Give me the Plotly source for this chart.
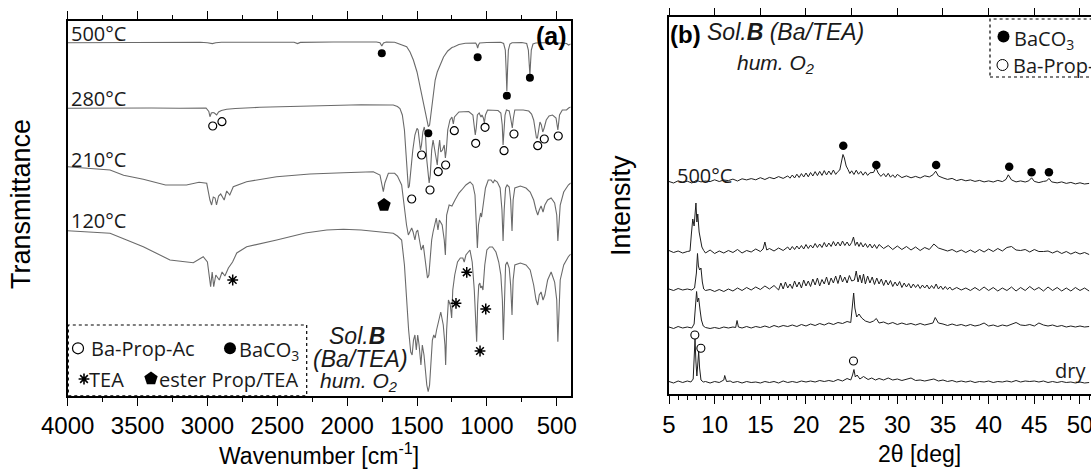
import plotly.graph_objects as go

W, H = 1091, 472

# ---------------- Panel (a): FTIR spectra (wavenumber cm-1, transmittance a.u.) ----------------
ftir_500 = [(4000, 353.0), (3800, 353.2), (3500, 353.1), (3200, 353.3), (3050, 353.4), (3000, 352.9),
            (2965, 352.1), (2940, 353.0), (2900, 353.4), (2700, 353.5), (2500, 353.4), (2380, 353.5),
            (2355, 352.1), (2335, 353.3), (2100, 353.7), (1900, 353.8), (1790, 353.7), (1765, 352.9),
            (1752, 349.7), (1740, 352.7), (1720, 353.7), (1660, 353.5), (1622, 351.7), (1600, 350.7),
            (1574, 349.0), (1550, 343.7), (1526, 335.7), (1500, 323.7), (1479, 309.0), (1460, 295.7),
            (1443, 282.4), (1430, 273.7), (1419, 269.0), (1410, 270.7), (1400, 281.7), (1390, 295.7),
            (1383, 303.7), (1370, 315.7), (1355, 323.7), (1340, 329.0), (1310, 338.7), (1280, 344.7),
            (1250, 348.2), (1234, 349.0), (1200, 351.2), (1154, 352.4), (1100, 352.9), (1080, 352.7),
            (1072, 350.7), (1066, 347.7), (1060, 350.7), (1052, 352.7), (1000, 353.2), (900, 353.4),
            (880, 352.2), (868, 345.7), (862, 325.7), (857, 304.7), (852, 325.7), (846, 345.7),
            (835, 351.7), (820, 353.0), (750, 353.2), (715, 352.2), (703, 345.7), (697, 332.7),
            (692, 320.7), (687, 333.7), (682, 345.7), (670, 351.7), (650, 352.7), (550, 353.2),
            (450, 352.9), (430, 352.2), (415, 350.7), (400, 351.7)]

ftir_280 = [(4000, 287.4), (3800, 287.7), (3600, 287.3), (3400, 287.7), (3200, 287.5), (3050, 288.1),
            (3010, 287.7), (2990, 284.2), (2982, 279.0), (2972, 282.7), (2960, 283.2), (2950, 282.7),
            (2934, 280.7), (2920, 283.7), (2900, 285.2), (2862, 286.4), (2800, 287.2), (2624, 288.4),
            (2400, 289.2), (2146, 290.7), (1900, 290.9), (1700, 290.7), (1670, 290.7), (1640, 289.2),
            (1622, 287.2), (1605, 280.7), (1590, 265.7), (1578, 240.7), (1568, 217.7), (1562, 207.7),
            (1555, 209.7), (1545, 225.7), (1530, 245.7), (1515, 260.7), (1500, 267.4), (1492, 265.7),
            (1484, 255.7), (1475, 245.7), (1468, 250.7), (1458, 263.7), (1448, 268.7), (1440, 262.7),
            (1430, 235.7), (1420, 217.7), (1413, 212.7), (1405, 220.7), (1395, 245.7), (1385, 255.7),
            (1375, 247.7), (1365, 235.7), (1355, 230.7), (1347, 245.7), (1338, 255.7), (1330, 243.7),
            (1318, 245.7), (1305, 250.7), (1297, 237.7), (1290, 245.7), (1280, 265.7), (1264, 275.7),
            (1250, 278.7), (1240, 271.7), (1232, 278.7), (1200, 283.7), (1180, 284.0), (1130, 284.2),
            (1100, 280.7), (1090, 270.7), (1083, 260.7), (1076, 267.7), (1068, 280.7), (1055, 282.7),
            (1042, 278.7), (1035, 280.7), (1025, 277.7), (1018, 272.7), (1010, 280.7), (995, 285.7),
            (987, 285.7), (960, 285.7), (920, 285.2), (900, 282.7), (890, 270.7), (884, 250.7),
            (878, 270.7), (870, 280.7), (860, 285.7), (840, 284.7), (830, 277.7), (818, 267.7),
            (810, 277.7), (800, 285.7), (780, 285.7), (740, 285.7), (700, 284.7), (680, 281.7),
            (665, 275.7), (655, 265.7), (645, 257.7), (638, 257.7), (630, 265.7), (620, 273.7),
            (610, 270.7), (600, 263.7), (590, 267.7), (575, 275.7), (555, 279.7), (530, 280.7),
            (505, 277.7), (497, 269.7), (492, 265.7), (487, 271.7), (480, 280.7), (460, 285.7),
            (430, 285.7), (415, 287.7), (400, 288.7)]

ftir_210 = [(4000, 229.0), (3800, 226.7), (3697, 225.7), (3600, 220.5), (3459, 216.4), (3300, 210.7),
            (3150, 210.7), (3060, 213.4), (3005, 212.4), (2982, 195.7), (2970, 190.7), (2958, 198.7),
            (2945, 197.7), (2935, 190.7), (2920, 199.7), (2905, 201.7), (2880, 195.7), (2862, 204.7),
            (2840, 200.7), (2815, 209.0), (2720, 214.0), (2505, 219.0), (2266, 221.7), (2027, 223.0),
            (1813, 224.0), (1765, 220.7), (1752, 210.7), (1741, 204.0), (1730, 212.7), (1705, 222.4),
            (1660, 222.4), (1640, 219.7), (1610, 210.7), (1590, 185.7), (1575, 170.7), (1562, 160.7),
            (1550, 163.7), (1538, 167.7), (1528, 163.7), (1515, 155.7), (1505, 163.7), (1495, 165.7),
            (1485, 157.7), (1470, 145.7), (1455, 150.7), (1440, 130.7), (1425, 117.7), (1415, 120.7),
            (1405, 140.7), (1395, 155.7), (1385, 163.7), (1375, 170.7), (1362, 177.7), (1350, 165.7),
            (1340, 175.7), (1320, 170.7), (1305, 155.7), (1297, 140.7), (1288, 180.7), (1270, 190.7),
            (1250, 189.7), (1228, 195.7), (1200, 202.7), (1180, 205.7), (1150, 210.7), (1120, 213.7),
            (1100, 210.7), (1085, 200.7), (1075, 170.7), (1068, 147.7), (1060, 170.7), (1052, 179.7),
            (1045, 182.7), (1038, 178.7), (1025, 190.7), (1010, 207.7), (990, 215.7), (970, 215.7),
            (955, 212.7), (945, 215.7), (925, 213.7), (905, 207.7), (892, 185.7), (884, 154.7),
            (876, 185.7), (866, 207.7), (855, 210.7), (840, 208.7), (830, 195.7), (820, 164.7),
            (812, 195.7), (800, 207.7), (760, 209.7), (720, 207.7), (690, 203.7), (665, 195.7),
            (648, 185.7), (636, 180.7), (625, 185.7), (612, 189.7), (598, 183.7), (585, 190.7),
            (565, 195.7), (540, 197.7), (515, 192.7), (500, 180.7), (492, 154.7), (485, 170.7),
            (475, 190.7), (450, 203.7), (417, 210.7), (400, 212.7)]

ftir_120 = [(4000, 165.0), (3697, 162.4), (3459, 149.0), (3268, 135.7), (3101, 133.0), (3030, 139.0),
            (3000, 133.7), (2977, 109.0), (2966, 123.7), (2955, 109.0), (2940, 120.7), (2915, 115.7),
            (2895, 123.7), (2875, 119.7), (2850, 127.7), (2820, 133.7), (2790, 142.7), (2719, 149.0),
            (2504, 155.7), (2300, 162.7), (2146, 165.7), (2027, 166.4), (1900, 165.7), (1789, 164.0),
            (1670, 162.4), (1640, 159.7), (1610, 155.7), (1590, 130.7), (1574, 92.7), (1560, 65.7),
            (1545, 43.7), (1535, 40.7), (1525, 55.7), (1515, 60.7), (1505, 45.7), (1495, 60.7),
            (1485, 50.7), (1472, 30.7), (1462, 50.7), (1450, 40.7), (1430, 10.7), (1420, 4.0),
            (1410, 10.7), (1400, 35.7), (1390, 55.7), (1380, 60.7), (1370, 57.7), (1360, 65.7),
            (1345, 75.7), (1330, 83.7), (1312, 70.7), (1300, 50.7), (1295, 30.7), (1288, 65.7),
            (1275, 95.7), (1262, 90.7), (1252, 77.7), (1244, 105.7), (1230, 120.7), (1210, 133.7),
            (1190, 137.7), (1172, 137.7), (1162, 133.7), (1150, 140.7), (1121, 145.7), (1105, 133.7),
            (1090, 105.7), (1078, 75.7), (1073, 54.0), (1066, 90.7), (1058, 110.7), (1050, 112.7),
            (1044, 107.7), (1036, 109.7), (1028, 105.7), (1015, 130.7), (1000, 145.7), (980, 148.7),
            (960, 148.7), (935, 143.7), (915, 133.7), (900, 120.7), (889, 95.7), (882, 55.7),
            (876, 95.7), (866, 130.7), (855, 133.7), (840, 127.7), (830, 110.7), (820, 80.7),
            (812, 115.7), (800, 130.7), (760, 132.7), (720, 130.7), (690, 125.7), (665, 110.7),
            (648, 95.7), (636, 90.7), (625, 100.7), (612, 103.7), (598, 95.7), (585, 100.7),
            (565, 115.7), (540, 123.7), (515, 113.7), (500, 95.7), (492, 54.0), (485, 85.7),
            (475, 115.7), (450, 130.7), (417, 139.0), (400, 141.7)]

# band assignment markers (wavenumber, height)
baco3_a = [(1752, 342.4), (1419, 262.4), (1066, 338.4), (857, 300.0), (692, 318.0)]
baprop_a = [(2962, 269.7), (2896, 274.0), (1538, 196.7), (1467, 240.7), (1407, 205.7), (1348, 224.0),
            (1295, 230.7), (1233, 265.0), (1080, 252.4), (1013, 268.4), (877, 245.0), (806, 261.7),
            (636, 250.0), (589, 256.7), (489, 259.7)]
tea_a = [(2819, 115.7), (1221, 92.4), (1144, 123.4), (1008, 86.7), (1049, 44.7)]
ester_a = [(1736, 190.7)]

# ---------------- Panel (b): XRD patterns (2theta deg, intensity a.u.) ----------------
xrd_500 = [(5.0, 212.5), (5.5, 211.0), (6.0, 213.2), (6.5, 211.5), (7.0, 212.8), (7.5, 211.0), (8.0, 213.6),
           (8.5, 212.1), (9.0, 213.0), (9.5, 212.4), (10.0, 214.2), (10.5, 212.5), (11.0, 214.0), (11.5, 213.4),
           (12.0, 214.9), (12.5, 213.0), (13.0, 215.2), (13.5, 214.1), (14.0, 215.4), (14.5, 214.2), (15.0, 216.3),
           (15.5, 214.5), (16.0, 216.6), (16.5, 215.3), (17.0, 217.4), (17.5, 215.6), (18.0, 218.1), (18.25, 215.8),
           (18.5, 219.0), (18.75, 216.0), (19.0, 219.8), (19.25, 216.5), (19.5, 220.4), (19.75, 217.0), (20.0, 221.0),
           (20.25, 217.2), (20.5, 221.5), (20.75, 218.0), (21.0, 222.4), (21.25, 218.4), (21.5, 222.6), (21.75, 218.6),
           (22.0, 223.4), (22.25, 219.0), (22.5, 223.0), (22.75, 219.4), (23.0, 224.0), (23.25, 219.6), (23.5, 222.5),
           (23.7, 224.0), (23.9, 233.0), (24.05, 239.5), (24.2, 236.0), (24.4, 228.0), (24.6, 224.5), (24.8, 220.5),
           (25.0, 223.2), (25.25, 219.5), (25.5, 223.8), (25.75, 219.8), (26.0, 222.6), (26.25, 218.8), (26.5, 222.1),
           (26.75, 218.6), (27.0, 221.2), (27.4, 221.6), (27.65, 226.5), (27.9, 221.0), (28.2, 217.6), (28.5, 220.4),
           (28.75, 217.2), (29.0, 220.7), (29.25, 216.8), (29.5, 219.2), (29.75, 216.4), (30.0, 219.6), (30.5, 216.4),
           (31.0, 218.1), (31.5, 216.2), (32.0, 217.6), (32.5, 216.0), (33.0, 218.2), (33.5, 217.1),
           (33.9, 219.2), (34.2, 222.8), (34.5, 218.0), (35.0, 216.1), (35.5, 214.6), (36.0, 215.6), (36.5, 213.4),
           (37.0, 214.6), (37.5, 213.2), (38.0, 214.1), (38.5, 212.6), (39.0, 213.6), (39.5, 212.1), (40.0, 213.1),
           (40.5, 212.0), (41.0, 213.6), (41.5, 212.4), (41.9, 214.6), (42.15, 219.2), (42.5, 214.1), (43.0, 212.1),
           (43.5, 213.1), (44.0, 212.0), (44.4, 213.2), (44.7, 216.2), (45.0, 212.6), (45.5, 211.4), (46.0, 212.6),
           (46.35, 213.1), (46.6, 215.6), (46.9, 212.1), (47.5, 211.1), (48.0, 212.1), (48.5, 210.6), (49.0, 211.6),
           (49.5, 210.1), (50.0, 211.2), (50.5, 210.0), (51.0, 210.6)]

xrd_280 = [(5.0, 143.5), (5.5, 141.5), (6.0, 143.0), (6.5, 141.0), (7.0, 142.5), (7.3, 143.0), (7.45, 160.0),
           (7.6, 175.0), (7.75, 168.0), (7.85, 185.0), (7.95, 191.0), (8.05, 172.0), (8.15, 180.0), (8.3, 162.0),
           (8.45, 155.0), (8.6, 147.0), (8.8, 143.5), (9.0, 141.0), (9.5, 144.0), (10.0, 140.5), (10.5, 143.0),
           (11.0, 141.0), (11.5, 143.5), (12.0, 141.5), (12.5, 144.5), (13.0, 141.0), (13.5, 143.5), (14.0, 142.0),
           (14.5, 145.0), (15.0, 142.5), (15.3, 145.0), (15.5, 152.0), (15.7, 144.0), (16.0, 145.5), (16.5, 143.0),
           (17.0, 146.0), (17.5, 143.5), (18.0, 147.0), (18.25, 144.0), (18.5, 147.5), (18.75, 144.5), (19.0, 148.0),
           (19.25, 145.0), (19.5, 148.5), (19.75, 145.0), (20.0, 149.5), (20.25, 145.5), (20.5, 149.0), (20.75, 146.0),
           (21.0, 150.5), (21.25, 146.5), (21.5, 150.0), (21.75, 146.5), (22.0, 151.5), (22.25, 147.0), (22.5, 151.0),
           (22.75, 147.5), (23.0, 152.5), (23.25, 148.0), (23.5, 152.0), (23.75, 148.0), (24.0, 153.0), (24.25, 148.5),
           (24.5, 152.0), (24.75, 148.0), (25.0, 151.5), (25.2, 157.0), (25.4, 148.5), (25.6, 152.0), (25.8, 147.5),
           (26.0, 151.5), (26.25, 147.0), (26.5, 150.5), (26.75, 146.5), (27.0, 150.0), (27.25, 146.0), (27.5, 149.5),
           (27.75, 145.5), (28.0, 149.5), (28.5, 145.5), (29.0, 148.5), (29.5, 144.5), (30.0, 148.0),
           (30.5, 144.5), (31.0, 147.5), (31.5, 144.0), (32.0, 147.0), (32.5, 143.5), (33.0, 146.5), (33.5, 144.5),
           (34.0, 150.0), (34.5, 146.0), (35.0, 144.5), (35.5, 143.0), (36.0, 144.5), (36.5, 142.0), (37.0, 144.0),
           (37.5, 141.5), (38.0, 144.0), (38.5, 141.5), (39.0, 144.5), (39.5, 142.0), (40.0, 145.0), (40.5, 142.5),
           (41.0, 145.5), (41.5, 143.0), (42.0, 146.5), (42.5, 147.5), (43.0, 144.0), (43.5, 143.5), (44.0, 144.5),
           (44.5, 142.0), (45.0, 144.5), (45.5, 142.5), (46.0, 142.5), (46.5, 143.0), (47.0, 141.0), (47.5, 143.0),
           (48.0, 140.5), (48.5, 142.5), (49.0, 140.0), (49.5, 142.0), (50.0, 140.0), (50.5, 141.5), (51.0, 139.5)]

xrd_210 = [(5.0, 105.0), (5.5, 103.5), (6.0, 105.5), (6.5, 104.0), (7.0, 105.0), (7.5, 104.0), (7.8, 106.0),
           (8.0, 121.0), (8.12, 140.5), (8.22, 128.0), (8.35, 124.0), (8.5, 126.0), (8.65, 112.0), (8.8, 105.0),
           (9.0, 103.5), (9.5, 104.5), (10.0, 102.5), (10.5, 104.5), (11.0, 102.5), (11.5, 105.0), (12.0, 103.0),
           (12.5, 106.0), (13.0, 103.5), (13.5, 106.5), (14.0, 104.0), (14.5, 107.0), (15.0, 104.5), (15.5, 108.0),
           (16.0, 105.0), (16.5, 108.5), (17.0, 104.0), (17.25, 111.0), (17.5, 105.0), (17.75, 112.0), (18.0, 106.0),
           (18.25, 110.0), (18.5, 105.5), (18.75, 113.0), (19.0, 107.0), (19.25, 112.0), (19.5, 106.0), (19.75, 114.0),
           (20.0, 108.0), (20.25, 113.0), (20.5, 107.5), (20.75, 115.0), (21.0, 109.0), (21.25, 116.0), (21.5, 108.0),
           (21.75, 114.5), (22.0, 110.0), (22.25, 117.0), (22.5, 109.0), (22.75, 116.0), (23.0, 111.0), (23.25, 118.0),
           (23.5, 110.5), (23.75, 119.0), (24.0, 112.0), (24.25, 117.0), (24.5, 111.0), (24.75, 118.5), (25.0, 113.0),
           (25.3, 114.0), (25.5, 123.0), (25.7, 112.0), (25.9, 119.0), (26.1, 111.0), (26.3, 120.0), (26.5, 110.0),
           (26.75, 118.0), (27.0, 111.0), (27.25, 117.0), (27.5, 109.5), (27.75, 116.0), (28.0, 110.0), (28.25, 115.0),
           (28.5, 108.5), (28.75, 114.0), (29.0, 109.0), (29.25, 113.5), (29.5, 107.5), (29.75, 112.0), (30.0, 108.0),
           (30.25, 112.5), (30.5, 106.5), (30.75, 111.0), (31.0, 107.0), (31.25, 110.5), (31.5, 106.0), (31.75, 110.0),
           (32.0, 106.5), (32.25, 109.5), (32.5, 105.5), (32.75, 109.0), (33.0, 106.0), (33.25, 109.0), (33.5, 105.0),
           (33.75, 108.5), (34.0, 105.5), (34.25, 110.0), (34.5, 105.0), (34.75, 108.0), (35.0, 104.5), (35.25, 107.5),
           (35.5, 104.5), (35.75, 107.0), (36.0, 104.0), (36.5, 106.5), (37.0, 104.0), (37.5, 106.0), (38.0, 103.5),
           (38.5, 106.5), (39.0, 103.5), (39.5, 107.0), (40.0, 103.5), (40.5, 106.5), (41.0, 103.0), (41.5, 106.0),
           (42.0, 103.5), (42.5, 107.0), (43.0, 103.0), (43.5, 106.5), (44.0, 103.5), (44.5, 107.5), (45.0, 104.0),
           (45.5, 106.5), (46.0, 103.0), (46.5, 107.0), (47.0, 103.5), (47.5, 106.5), (48.0, 103.0), (48.5, 106.0),
           (49.0, 103.0), (49.5, 106.5), (50.0, 103.5), (50.5, 106.0), (51.0, 103.0)]

xrd_120 = [(5.0, 67.0), (5.5, 65.5), (6.0, 67.5), (6.5, 66.0), (7.0, 67.0), (7.5, 66.0), (7.75, 70.0), (7.9, 88.0),
           (8.02, 102.5), (8.12, 92.0), (8.25, 96.0), (8.4, 84.0), (8.55, 74.0), (8.75, 68.0), (9.0, 66.5), (9.5, 65.5),
           (10.0, 66.5), (10.5, 65.5), (11.0, 67.0), (11.5, 66.0), (12.0, 67.0), (12.3, 66.5), (12.45, 73.5), (12.6, 67.0),
           (13.0, 66.0), (13.5, 67.5), (14.0, 66.0), (14.5, 67.5), (15.0, 66.5), (15.5, 68.0), (16.0, 66.5), (16.5, 68.5),
           (17.0, 67.0), (17.5, 68.5), (18.0, 67.5), (18.5, 69.0), (19.0, 67.5), (19.5, 69.5), (20.0, 68.0), (20.5, 70.0),
           (21.0, 68.5), (21.5, 70.5), (22.0, 69.0), (22.5, 71.0), (23.0, 69.5), (23.5, 71.5), (24.0, 70.5), (24.5, 72.5),
           (24.9, 71.5), (25.1, 90.0), (25.22, 101.0), (25.35, 86.0), (25.55, 77.0), (25.8, 80.0), (26.1, 76.0),
           (26.5, 73.0), (27.0, 71.5), (27.4, 73.0), (27.7, 75.5), (28.0, 71.0), (28.5, 72.0), (29.0, 70.0), (29.5, 71.5),
           (30.0, 69.5), (30.5, 71.0), (31.0, 69.5), (31.5, 70.5), (32.0, 69.0), (32.5, 70.5), (33.0, 69.0), (33.5, 70.0),
           (33.9, 71.0), (34.15, 76.5), (34.5, 71.0), (35.0, 70.0), (35.5, 68.5), (36.0, 70.0), (36.5, 68.5), (37.0, 69.5),
           (37.5, 68.0), (38.0, 69.5), (38.5, 68.0), (39.0, 69.0), (39.5, 71.0), (40.0, 68.0), (40.5, 69.0), (41.0, 67.5),
           (41.5, 69.0), (42.0, 68.0), (42.5, 70.0), (43.0, 71.5), (43.5, 69.0), (44.0, 68.5), (44.5, 69.5), (45.0, 68.0),
           (45.5, 71.0), (46.0, 69.0), (46.5, 68.0), (47.0, 69.0), (47.5, 67.5), (48.0, 68.5), (48.5, 67.0), (49.0, 68.0),
           (49.5, 67.0), (50.0, 68.0), (50.5, 67.0), (51.0, 67.5)]

xrd_dry = [(5.0, 12.5), (5.5, 11.0), (6.0, 13.0), (6.5, 11.5), (7.0, 13.0), (7.4, 12.0), (7.65, 15.0), (7.75, 38.0),
           (7.85, 55.0), (7.95, 32.0), (8.05, 18.0), (8.15, 30.0), (8.25, 42.5), (8.35, 26.0), (8.5, 14.0), (8.75, 12.0),
           (9.0, 12.5), (9.5, 11.0), (10.0, 12.5), (10.5, 11.5), (11.0, 14.0), (11.1, 18.5), (11.3, 12.5), (11.7, 13.0),
           (12.0, 11.5), (12.5, 12.5), (13.0, 11.0), (13.5, 12.5), (14.0, 11.5), (14.5, 12.0), (15.0, 11.0), (15.5, 12.5),
           (16.0, 11.5), (16.5, 12.5), (17.0, 11.0), (17.5, 13.0), (18.0, 11.5), (18.5, 12.5), (19.0, 11.5), (19.5, 13.0),
           (20.0, 12.0), (20.5, 13.0), (21.0, 12.0), (21.5, 13.5), (22.0, 12.5), (22.5, 13.5), (23.0, 12.5), (23.5, 14.5),
           (24.0, 13.0), (24.5, 15.5), (24.9, 14.0), (25.1, 19.0), (25.25, 24.5), (25.4, 17.0), (25.6, 19.0), (25.9, 15.0),
           (26.3, 17.5), (26.8, 14.5), (27.2, 16.0), (27.6, 14.0), (28.0, 15.5), (28.5, 14.0), (29.0, 16.0), (29.5, 14.0),
           (30.0, 15.0), (30.5, 13.5), (31.0, 14.5), (31.5, 16.0), (32.0, 13.5), (32.5, 14.0), (33.0, 13.0), (33.5, 14.0),
           (34.0, 15.0), (34.5, 13.0), (35.0, 14.0), (35.5, 12.5), (36.0, 13.5), (36.5, 12.0), (37.0, 13.0), (37.5, 12.0),
           (38.0, 13.0), (38.5, 11.5), (39.0, 12.5), (39.5, 12.0), (40.0, 13.0), (40.5, 11.5), (41.0, 12.5), (41.5, 12.0),
           (42.0, 13.0), (42.5, 12.0), (43.0, 13.5), (43.5, 12.0), (44.0, 13.0), (44.5, 12.5), (45.0, 13.0), (45.5, 12.0),
           (46.0, 13.0), (46.5, 11.5), (47.0, 12.5), (47.5, 11.5), (48.0, 12.5), (48.5, 11.5), (49.0, 12.0), (49.5, 11.0),
           (50.0, 12.0), (50.5, 11.0), (51.0, 11.5)]

baco3_b = [(24.08, 248.3), (27.7, 229.0), (34.25, 229.0), (42.25, 227.3), (44.7, 221.7), (46.6, 221.7)]
baprop_b = [(7.83, 59.0), (8.49, 45.7), (25.2, 33.0)]

# ---------------- layout helpers (pixel -> paper / data) ----------------
A_L, A_R, A_T, A_B = 67.7, 570.7, 20.7, 395.7
B_L, B_T, B_B = 669.0, 17.3, 394.0
B_PXDEG = 9.133


def px(x):
    return x / W


def py(y):
    return 1 - y / H


def wn_of(ox):
    return 4000 - (ox - A_L) * 3600 / (A_R - A_L)


def ya_of(oy):
    return A_B - oy


def tt_of(ox):
    return 5 + (ox - B_L) / B_PXDEG


def yb_of(oy):
    return B_B - oy


def unzip(pts):
    return [p[0] for p in pts], [p[1] for p in pts]


fig = go.Figure()

FTIR_COLOR = "#6a6a6a"
XRD_COLOR = "#1e1e1e"

for series in (ftir_500, ftir_280, ftir_210, ftir_120):
    x, y = unzip(series)
    fig.add_trace(go.Scatter(x=x, y=y, mode="lines", line=dict(color=FTIR_COLOR, width=1.1),
                             xaxis="x", yaxis="y", hoverinfo="skip"))


def add_marks(pts, xa, ya, symbol, size, lw=1.3):
    x, y = unzip(pts)
    fig.add_trace(go.Scatter(x=x, y=y, mode="markers", xaxis=xa, yaxis=ya, hoverinfo="skip",
                             marker=dict(symbol=symbol, size=size, color="black",
                                         line=dict(color="black", width=lw))))


add_marks(baco3_a, "x", "y", "circle", 8, 0)
add_marks(baprop_a, "x", "y", "circle-open", 8, 1.2)
add_marks(tea_a, "x", "y", "asterisk-open", 9, 1.5)
add_marks(ester_a, "x", "y", "pentagon", 14, 0)

for series in (xrd_500, xrd_280, xrd_210, xrd_120, xrd_dry):
    x, y = unzip(series)
    fig.add_trace(go.Scatter(x=x, y=y, mode="lines", line=dict(color=XRD_COLOR, width=1.0),
                             xaxis="x2", yaxis="y2", hoverinfo="skip"))

add_marks(baco3_b, "x2", "y2", "circle", 8.5, 0)
add_marks(baprop_b, "x2", "y2", "circle-open", 8, 1.1)

# legend symbols (decoration)
add_marks([(wn_of(78), ya_of(348.3))], "x", "y", "circle-open", 11, 1.2)
add_marks([(wn_of(230), ya_of(348.3))], "x", "y", "circle", 12, 0)
add_marks([(wn_of(84), ya_of(379))], "x", "y", "asterisk-open", 9, 1.6)
add_marks([(wn_of(151), ya_of(378.5))], "x", "y", "pentagon", 14, 0)
add_marks([(tt_of(1003.5), yb_of(36.5))], "x2", "y2", "circle", 12, 0)
add_marks([(tt_of(1002.5), yb_of(65))], "x2", "y2", "circle-open", 11, 1.0)

# invisible trace for top tick axis of panel b
fig.add_trace(go.Scatter(x=[5, 51], y=[0, 0], mode="markers", marker=dict(opacity=0),
                         xaxis="x3", yaxis="y2", hoverinfo="skip"))

TICKFONT = dict(family="Liberation Sans, Arial, sans-serif", size=24, color="black")
AX_LINE = dict(showline=True, linecolor="black", linewidth=1.6)

fig.update_layout(
    width=W, height=H, margin=dict(l=0, r=0, t=0, b=0, autoexpand=False),
    paper_bgcolor="white", plot_bgcolor="white", showlegend=False, hovermode=False,
    xaxis=dict(domain=[px(A_L), px(A_R)], range=[4000, 400], anchor="y", **AX_LINE, mirror="ticks",
               ticks="outside", ticklen=8, tickwidth=1.4, tickcolor="black", tick0=4000, dtick=500,
               tickfont=TICKFONT, showgrid=False, zeroline=False, automargin=False,
               minor=dict(ticks="outside", ticklen=4, tickwidth=1.2, tickcolor="black", dtick=250, showgrid=False)),
    yaxis=dict(domain=[py(A_B), py(A_T)], range=[0, 375], anchor="x", **AX_LINE, mirror=True,
               ticks="", showticklabels=False, showgrid=False, zeroline=False, automargin=False),
    xaxis2=dict(domain=[px(B_L), 1.0], range=[5, tt_of(W)], anchor="y2", **AX_LINE, mirror=False,
                ticks="outside", ticklen=8, tickwidth=1.4, tickcolor="black", tick0=5, dtick=5,
                tickfont=TICKFONT, showgrid=False, zeroline=False, automargin=False,
                ticklabeloverflow="allow",
                minor=dict(ticks="outside", ticklen=4, tickwidth=1.2, tickcolor="black", dtick=1, showgrid=False)),
    xaxis3=dict(domain=[px(B_L), 1.0], range=[5, tt_of(W)], anchor="y2", overlaying="x2", side="top",
                **AX_LINE, ticks="outside", ticklen=8, tickwidth=1.4, tickcolor="black", tick0=5, dtick=5,
                showticklabels=False, showgrid=False, zeroline=False, automargin=False),
    yaxis2=dict(domain=[py(B_B), py(B_T)], range=[0, B_B - B_T], anchor="x2", **AX_LINE, mirror=False,
                ticks="", showticklabels=False, showgrid=False, zeroline=False, automargin=False),
)

TITLE_FONT = dict(family="Liberation Sans, Arial, sans-serif", size=23, color="black")
YTITLE_FONT = dict(family="Liberation Sans, Arial, sans-serif", size=27, color="black")
LBL_FONT = dict(family="Open Sans, Noto Sans, sans-serif", size=20, color="#1a1a1a")
IT_FONT = dict(family="Liberation Sans, Arial, sans-serif", size=23, color="#1a1a1a")
IT_SMALL = dict(family="Liberation Sans, Arial, sans-serif", size=21, color="#1a1a1a")

ann = []


def add_text(text, x, y, font, xanchor="center", yanchor="middle", angle=0):
    ann.append(dict(text=text, x=px(x), y=py(y), xref="paper", yref="paper", showarrow=False,
                    xanchor=xanchor, yanchor=yanchor, font=font, textangle=angle, borderpad=0))


# axis titles
add_text("Transmittance", 21, 204, YTITLE_FONT, angle=-90)
add_text("Wavenumber [cm<sup>-1</sup>]", 319, 454, TITLE_FONT)
add_text("Intensity", 621, 206, YTITLE_FONT, angle=-90)
add_text("2θ [deg]", 919, 454, TITLE_FONT)

# panel a texts
add_text("500°C", 70, 33.5, LBL_FONT, xanchor="left")
add_text("280°C", 70, 98.5, LBL_FONT, xanchor="left")
add_text("210°C", 70, 159.5, LBL_FONT, xanchor="left")
add_text("120°C", 70, 220.5, LBL_FONT, xanchor="left")
add_text("<b>(a)</b>", 568, 20.7, dict(family="Liberation Sans, Arial, sans-serif", size=25, color="black"),
         xanchor="right", yanchor="top")
add_text("<i>Sol.<b>B</b></i>", 356.5, 335.5, IT_FONT)
add_text("<i>(Ba/TEA)</i>", 360, 358.5, IT_FONT)
add_text("<i>hum. O<sub>2</sub></i>", 358.5, 382, IT_SMALL)
add_text("Ba-Prop-Ac", 90, 348.5, LBL_FONT, xanchor="left")
add_text("BaCO<sub>3</sub>", 238, 350.5, LBL_FONT, xanchor="left")
add_text("TEA", 88, 379, LBL_FONT, xanchor="left")
add_text("ester Prop/TEA", 158, 379, LBL_FONT, xanchor="left")

# panel b texts
add_text("<b>(b)</b>", 669, 19.5, dict(family="Liberation Sans, Arial, sans-serif", size=24, color="black"),
         xanchor="left", yanchor="top")
add_text("<i>Sol.<b>B</b> (Ba/TEA)</i>", 706, 32, IT_FONT, xanchor="left")
add_text("<i>hum. O<sub>2</sub></i>", 736, 64, IT_SMALL, xanchor="left")
add_text("500°C", 676, 175, LBL_FONT, xanchor="left")
add_text("dry", 1087, 370, LBL_FONT, xanchor="right")
add_text("BaCO<sub>3</sub>", 1013, 39, LBL_FONT, xanchor="left")
add_text("Ba-Prop-Ac", 1012, 66, LBL_FONT, xanchor="left")

fig.update_layout(annotations=ann)

# dotted legend boxes
fig.add_shape(type="rect", xref="x", yref="y", x0=wn_of(68.3), x1=wn_of(306.7), y0=0, y1=ya_of(325),
              line=dict(color="black", width=1.2, dash="dot"))
fig.add_shape(type="rect", xref="x2", yref="y2", x0=tt_of(990), x1=60, y0=yb_of(77), y1=yb_of(19),
              line=dict(color="black", width=1.2, dash="dot"))

fig.write_html("out.html", config={"displayModeBar": False},
               post_script="document.body.style.margin='0';document.body.style.overflow='hidden';")
